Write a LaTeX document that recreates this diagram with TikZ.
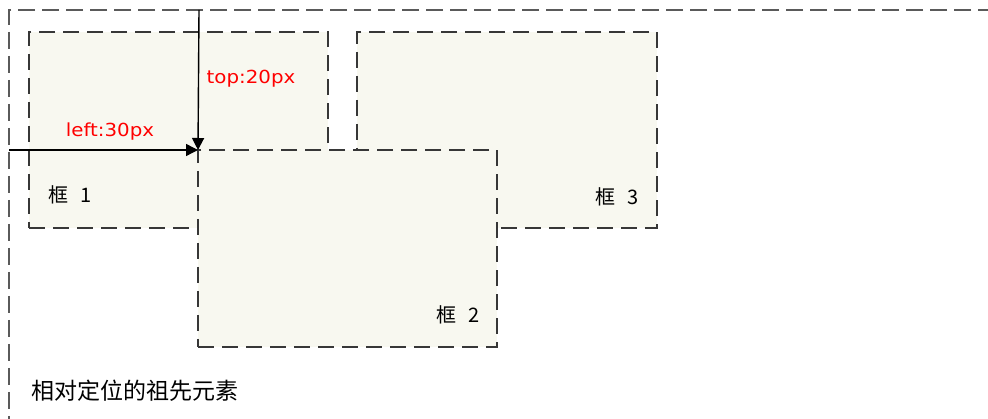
\documentclass[tikz,border=0pt]{standalone}
\usepackage{fontspec}
\setmainfont{DejaVu Sans}
\newfontfamily\cjk{Noto Sans CJK SC}
\usetikzlibrary{arrows.meta}
\definecolor{boxfill}{RGB}{248,248,240}
\definecolor{dashgray}{RGB}{55,55,55}
\definecolor{outergray}{RGB}{90,90,90}
\definecolor{labred}{RGB}{255,0,0}
\tikzset{
  posbox/.style={draw=dashgray, fill=boxfill, line width=2pt, dash pattern=on 16pt off 8pt,
    minimum width=299pt, minimum height=196pt, anchor=north west, inner sep=0pt, outer sep=0pt},
  outerline/.style={draw=outergray, line width=1.8pt, dash pattern=on 17pt off 7pt},
  boxlabel/.style={font=\cjk\fontsize{20}{20}\selectfont, inner sep=0pt},
  redlabel/.style={text=labred, font=\fontsize{18}{18}\selectfont, inner sep=0pt},
  conn/.style={draw=black, line width=1.4pt, -{Triangle[length=12pt,width=12pt]}}
}
\begin{document}
\begin{tikzpicture}[x=1pt,y=-1pt]
\useasboundingbox (0,0) rectangle (988,419);
\fill[white] (0,0) rectangle (988,419);
% outer (positioned ancestor)
\coordinate (otl) at (9,10);
\coordinate (otr) at (995,10);
\coordinate (obl) at (9,425);
\begin{scope}
\clip (0,0) rectangle (988,419);
\draw[outerline] (otr) -- (otl) -- (obl);
\end{scope}
% boxes
\node[posbox] (b1) at (29,32) {};
\node[posbox, minimum width=300pt] (b3) at (357,32) {};
\node[posbox, minimum height=197pt] (b2) at (198,150) {};
% arrows
\coordinate (ts) at (199,10);
\coordinate (ls) at (9,150);
\draw[conn] (ts) -- (b2.north west);
\draw[conn] (ls) -- (b2.north west);
% labels
\node[redlabel] (tl) at (251,79) {\scalebox{1.1}[1]{top:20px}};
\node[redlabel] (ll) at (110,132) {\scalebox{1.1}[1]{left:30px}};
\node[boxlabel] (l1) at (70,195) {框\hspace{12pt}1};
\node[boxlabel] (l2) at (458,315) {框\hspace{12pt}2};
\node[boxlabel] (l3) at (617,197) {框\hspace{12pt}3};
\node[font=\cjk\fontsize{23}{23}\selectfont, inner sep=0pt, anchor=west] (cap) at (31,391) {相对定位的祖先元素};
\end{tikzpicture}
\end{document}
